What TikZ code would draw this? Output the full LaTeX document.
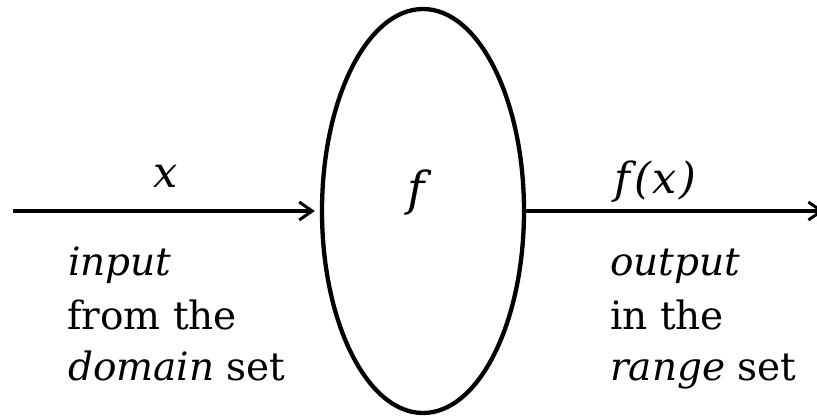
\documentclass[tikz,border=0pt]{standalone}
\usepackage{fontspec}
\setmainfont{DejaVu Serif}
\usetikzlibrary{arrows.meta,shapes.geometric}
\begin{document}
\begin{tikzpicture}[x=1pt,y=-1pt,
  txt/.style={font=\fontsize{39}{47}\selectfont, inner sep=0pt, anchor=base west},
  lbl/.style={font=\fontsize{43}{50}\selectfont\itshape, inner sep=0pt, anchor=base},
  arr/.style={line width=4pt, -{Straight Barb[length=13pt,width=18pt,line width=3pt]}}]
\useasboundingbox (0,0) rectangle (817,416);
\node[draw, ellipse, line width=4.3pt, minimum width=202pt, minimum height=404pt, inner sep=0pt] (fn) at (423,211) {};
\node[lbl, font=\fontsize{47}{52}\selectfont\itshape] (fl) at (416,205) {f};
\coordinate (start) at (13,211);
\coordinate (end) at (824,211);
\draw[arr, shorten >=5pt] (start) -- (fn.west);
\draw[arr] (fn.east) -- (end);
\node[lbl] (xl) at (166,187) {x};
\node[lbl] (fxl) at (655,193) {f\kern4pt(\kern2pt x\kern2pt)};
\node[txt] (l1) at (68,275) {\itshape input};
\node[txt] (l2) at (67,329) {from the};
\node[txt] (l3) at (68,380) {\itshape domain\upshape\ set};
\node[txt] (r1) at (610,275) {\itshape output};
\node[txt] (r2) at (610,329) {in the};
\node[txt] (r3) at (610,380) {\itshape range\upshape\ set};
\end{tikzpicture}
\end{document}
